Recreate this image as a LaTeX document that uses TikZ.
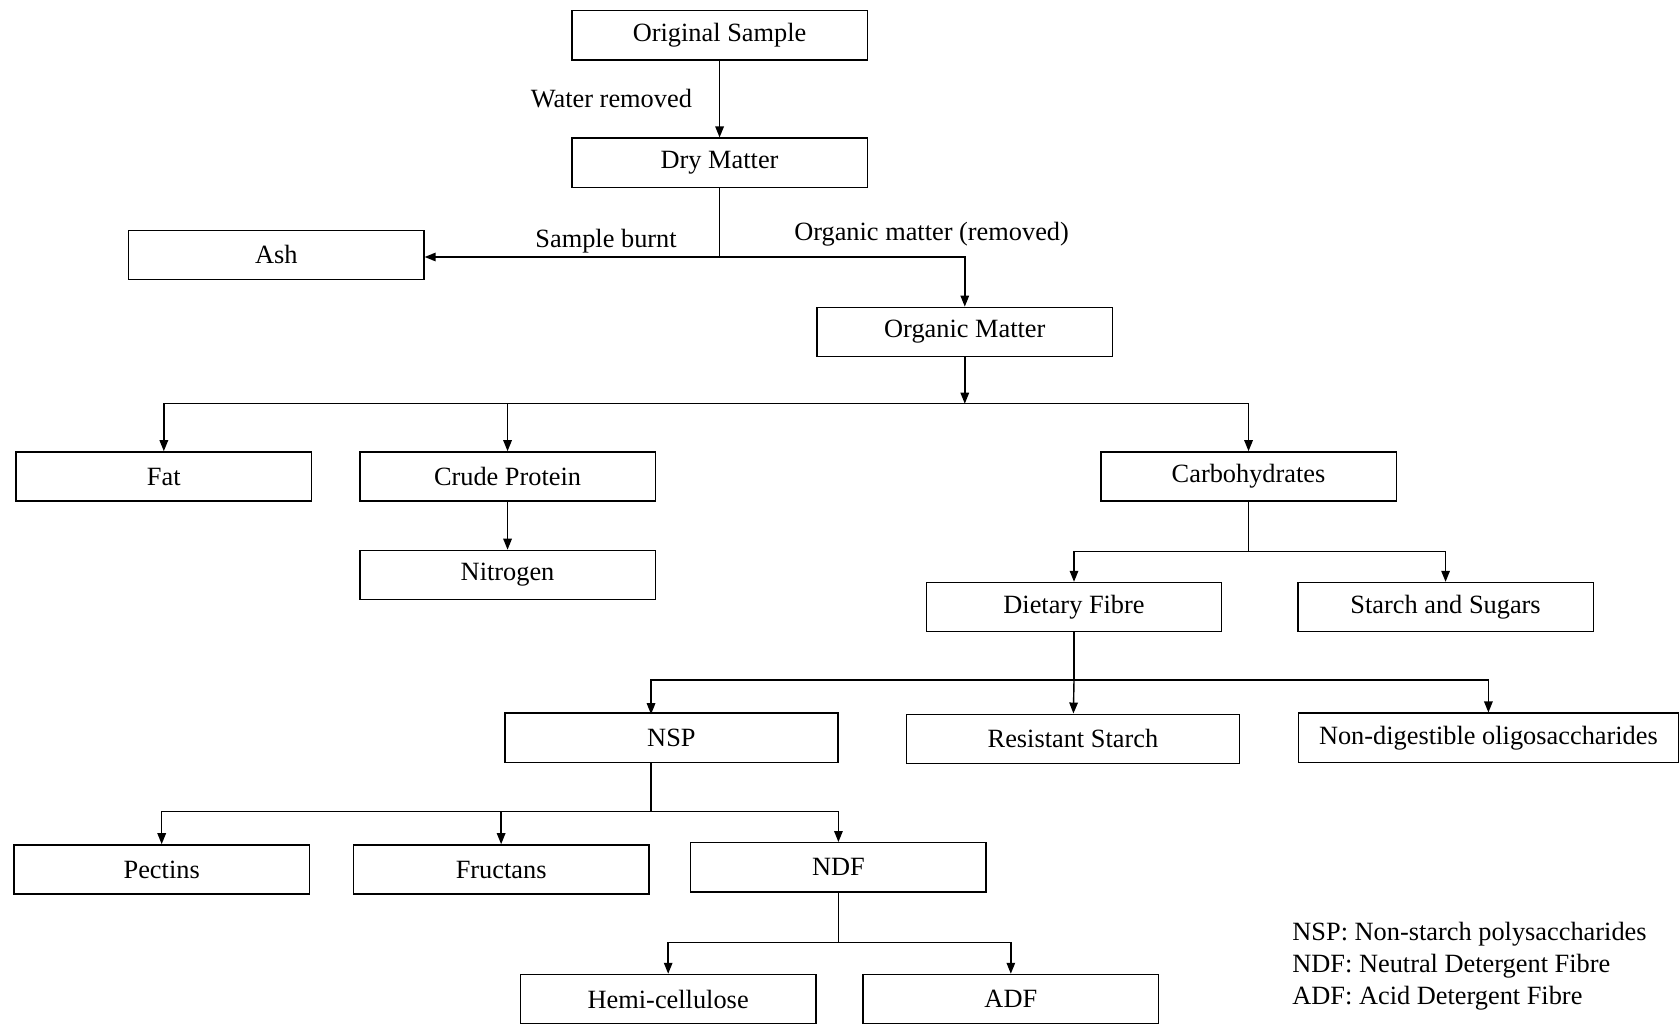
\documentclass[tikz,border=0pt]{standalone}
\usepackage{fontspec}
\setmainfont{Liberation Serif}
\usetikzlibrary{arrows.meta}

\tikzset{
	box/.style={draw, line width=0.8pt, minimum width=5.91cm, minimum height=0.985cm,
		inner sep=0pt, font=\fontsize{15}{18}\selectfont},
	wide/.style={minimum width=6.66cm},
	widest/.style={minimum width=7.6cm},
	arr/.style={-{Triangle[length=0.22cm,width=0.17cm]}, line width=0.8pt},
	line/.style={line width=0.8pt},
	lbl/.style={font=\fontsize{15}{18}\selectfont, inner sep=1pt},
}

\begin{document}
\begin{tikzpicture}[x=0.021416cm, y=-0.021416cm]
		\useasboundingbox (0,0) rectangle (1568,956);
		
		% boxes
		\node[box] (orig) at (672,33) {Original Sample};
		\node[box] (dry) at (672,152) {Dry Matter};
		\node[box] (ash) at (258,238) {Ash};
		\node[box] (om) at (901,310) {Organic Matter};
		\node[box] (fat) at (153,445) {Fat};
		\node[box] (cp) at (474,445) {Crude Protein};
		\node[box] (nit) at (474,537) {Nitrogen};
		\node[box] (carb) at (1166,445) {Carbohydrates};
		\node[box] (df) at (1003,567) {Dietary Fibre};
		\node[box] (ss) at (1350,567) {Starch and Sugars};
		\node[box, wide] (nsp) at (627,689) {NSP};
		\node[box, wide] (rs) at (1002,690) {Resistant Starch};
		\node[box, widest] (ndo) at (1390,689) {Non-digestible oligosaccharides};
		\node[box] (pec) at (151,812) {Pectins};
		\node[box] (fru) at (468,812) {Fructans};
		\node[box] (ndf) at (783,810) {NDF};
		\node[box] (hemi) at (624,933) {Hemi-cellulose};
		\node[box] (adf) at (944,933) {ADF};
		
		% branch points
		\coordinate (dmj) at (672,240);
		\coordinate (omj) at (901,377);
		\coordinate (caj) at (1166,515);
		\coordinate (dfj) at (1003,635);
		\coordinate (nspin) at (608,667);
		\coordinate (nspj) at (608,758);
		\coordinate (ndfj) at (783,880);
		
		% connectors
		\draw[arr] (orig) -- (dry);
		\draw[line] (dry) -- (dmj);
		\draw[arr] (dmj) -- (dmj -| ash.east);
		\draw[arr] (dmj) -| (om);
		\draw[arr] (om) -- (omj);
		\draw[arr] (omj) -| (fat);
		\draw[arr] (omj) -| (cp);
		\draw[arr] (omj) -| (carb);
		\draw[arr] (cp) -- (nit);
		\draw[line] (carb) -- (caj);
		\draw[arr] (caj) -| (df);
		\draw[arr] (caj) -| (ss);
		\draw[line] (df) -- (dfj);
		\draw[arr] (dfj) -| (nspin);
		\draw[arr] (dfj) -- (rs);
		\draw[arr] (dfj) -| (ndo);
		\draw[line] (nsp.south -| nspj) -- (nspj);
		\draw[arr] (nspj) -| (pec);
		\draw[arr] (nspj) -| (fru);
		\draw[arr] (nspj) -| (ndf);
		\draw[line] (ndf) -- (ndfj);
		\draw[arr] (ndfj) -| (hemi);
		\draw[arr] (ndfj) -| (adf);
		
		% labels
		\node[lbl] (water) at (571,92) {Water removed};
		\node[lbl] (burnt) at (566,225) {Sample burnt};
		\node[lbl] (omrem) at (870,219) {Organic matter (removed)};
		
		% legend
		\node[lbl, anchor=west] (leg1) at (1205,872) {NSP: Non-starch polysaccharides};
		\node[lbl, anchor=west] (leg2) at (1205,902) {NDF: Neutral Detergent Fibre};
		\node[lbl, anchor=west] (leg3) at (1205,932) {ADF: Acid Detergent Fibre};
	\end{tikzpicture}
\end{document}
